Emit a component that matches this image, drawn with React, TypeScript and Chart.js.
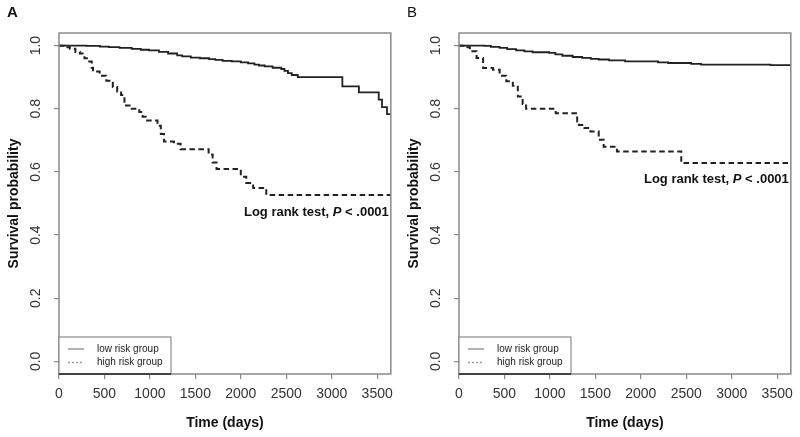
import React, { useEffect, useRef } from "react";
import { Chart, registerables } from "chart.js";

Chart.register(...registerables);

// ---- axis ticks ----
const xTickValues = [0, 500, 1000, 1500, 2000, 2500, 3000, 3500];
const yTickValues = [0, 0.2, 0.4, 0.6, 0.8, 1.0];
const xMax = 3650;
const seriesLabels = ["low risk group", "high risk group"];
const panelLabels = ["A", "B"];
const logRankText = ["Log rank test, ", "P", " < .0001"];

// ---- Panel A ----
const aLowDays = [0, 300, 450, 550, 665, 800, 900, 990, 1100, 1200, 1300, 1355, 1450, 1550, 1650, 1718, 1800, 1900, 2000, 2080, 2150, 2200, 2263, 2350, 2445, 2480, 2518, 2560, 2627, 3117, 3299, 3517, 3553, 3608, 3650];
const aLowSurv = [1.0, 0.999, 0.997, 0.995, 0.993, 0.99, 0.987, 0.985, 0.98, 0.975, 0.969, 0.966, 0.962, 0.96, 0.957, 0.955, 0.952, 0.95, 0.947, 0.944, 0.94, 0.937, 0.934, 0.93, 0.926, 0.92, 0.913, 0.907, 0.9, 0.871, 0.852, 0.829, 0.805, 0.783, 0.783];
const aHighDays = [0, 60, 120, 180, 229, 280, 320, 360, 374, 447, 520, 592, 640, 683, 720, 800, 883, 920, 955, 1083, 1120, 1155, 1264, 1337, 1646, 1690, 1733, 2000, 2060, 2136, 2280, 3650];
const aHighSurv = [1.0, 0.995, 0.99, 0.98, 0.975, 0.96, 0.95, 0.93, 0.918, 0.905, 0.889, 0.869, 0.855, 0.844, 0.81, 0.8, 0.79, 0.775, 0.763, 0.746, 0.72, 0.696, 0.689, 0.672, 0.655, 0.63, 0.609, 0.585, 0.565, 0.549, 0.527, 0.527];

// ---- Panel B ----
const bLowDays = [0, 283, 350, 447, 530, 628, 720, 810, 992, 1060, 1137, 1250, 1355, 1450, 1537, 1650, 1827, 2190, 2300, 2554, 2663, 3426, 3650];
const bLowSurv = [1.0, 0.999, 0.996, 0.993, 0.989, 0.985, 0.982, 0.979, 0.977, 0.972, 0.968, 0.964, 0.961, 0.958, 0.956, 0.953, 0.95, 0.947, 0.945, 0.942, 0.94, 0.938, 0.938];
const bHighDays = [0, 65, 120, 193, 265, 374, 447, 520, 592, 647, 700, 738, 1064, 1300, 1319, 1380, 1446, 1537, 1591, 1737, 2445, 3650];
const bHighSurv = [1.0, 0.995, 0.982, 0.961, 0.929, 0.924, 0.905, 0.887, 0.873, 0.839, 0.815, 0.8, 0.786, 0.76, 0.749, 0.739, 0.728, 0.702, 0.68, 0.665, 0.628, 0.628];

const FONT = "'Liberation Sans', Arial, sans-serif";
const BOX = "#8a8a8a";
const LINE = "#222222";
const TEXT = "#333333";

function toPoints(days: number[], surv: number[]) {
  return days.map((d, i) => ({ x: d, y: surv[i] }));
}

function makeOverlay(label: string, boldLabel: boolean, logRankY: number) {
  return {
    id: "overlay" + label,
    afterDraw(chart: any) {
      const ctx = chart.ctx;
      const { left, right, top, bottom } = chart.chartArea;
      ctx.save();
      // plot box
      ctx.strokeStyle = BOX;
      ctx.lineWidth = 1.5;
      ctx.strokeRect(left, top, right - left, bottom - top);
      // panel label
      ctx.fillStyle = "#111";
      ctx.font = (boldLabel ? "bold " : "") + "15px " + FONT;
      ctx.textBaseline = "middle";
      ctx.textAlign = "left";
      ctx.fillText(label, 7, 13);
      // log rank text
      const yPix = chart.scales.y.getPixelForValue(logRankY);
      const fonts = ["bold 13px " + FONT, "italic bold 13px " + FONT, "bold 13px " + FONT];
      const widths = logRankText.map((t, i) => {
        ctx.font = fonts[i];
        return ctx.measureText(t).width;
      });
      const total = widths.reduce((a, b) => a + b, 0);
      let x = right - 2 - total;
      ctx.fillStyle = "#111";
      logRankText.forEach((t, i) => {
        ctx.font = fonts[i];
        ctx.fillText(t, x, yPix);
        x += widths[i];
      });
      // legend box
      const lw = 112, lh = 37;
      ctx.fillStyle = "#fff";
      ctx.fillRect(left, bottom - lh, lw, lh);
      ctx.strokeStyle = BOX;
      ctx.lineWidth = 1.2;
      ctx.strokeRect(left, bottom - lh, lw, lh);
      ctx.strokeStyle = "#222";
      ctx.lineWidth = 1.5;
      ctx.beginPath();
      ctx.moveTo(left, bottom);
      ctx.lineTo(left + lw, bottom);
      ctx.stroke();
      const rows = [bottom - 25, bottom - 11.5];
      ctx.font = "10px " + FONT;
      ctx.fillStyle = "#222";
      chart.data.datasets.forEach((ds: any, i: number) => {
        ctx.strokeStyle = "#999";
        ctx.lineWidth = 1.5;
        ctx.setLineDash(i === 0 ? [] : [2, 2]);
        ctx.beginPath();
        ctx.moveTo(left + 9, rows[i]);
        ctx.lineTo(left + 25, rows[i]);
        ctx.stroke();
        ctx.setLineDash([]);
        ctx.fillText(ds.label, left + 38, rows[i]);
      });
      ctx.restore();
    },
  };
}

function Panel(props: { low: any[]; high: any[]; label: string; bold: boolean; logRankY: number }) {
  const ref = useRef<HTMLCanvasElement | null>(null);
  useEffect(() => {
    if (!ref.current) return;
    const chart = new Chart(ref.current, {
      type: "line",
      data: {
        datasets: [
          {
            label: seriesLabels[0],
            data: props.low,
            borderColor: LINE,
            borderWidth: 1.8,
            pointRadius: 0,
            stepped: "before",
            fill: false,
          },
          {
            label: seriesLabels[1],
            data: props.high,
            borderColor: LINE,
            borderWidth: 2,
            borderDash: [5.5, 3.5],
            pointRadius: 0,
            stepped: "before",
            fill: false,
          },
        ],
      },
      options: {
        responsive: false,
        animation: false,
        devicePixelRatio: 1,
        layout: { padding: { top: 33, right: 6, left: 0, bottom: 0 } },
        plugins: { legend: { display: false }, tooltip: { enabled: false } },
        scales: {
          x: {
            type: "linear",
            min: 0,
            max: xMax,
            border: { display: false },
            grid: { drawOnChartArea: false, drawTicks: true, tickLength: 5, tickColor: BOX, lineWidth: 1.2 },
            afterBuildTicks: (scale: any) => {
              scale.ticks = xTickValues.map((v) => ({ value: v }));
            },
            afterFit: (scale: any) => {
              scale.height = 63;
            },
            ticks: {
              color: TEXT,
              font: { family: FONT, size: 14 },
              padding: 7,
              maxRotation: 0,
              autoSkip: false,
              callback: (v: any) => String(v),
            },
            title: {
              display: true,
              text: "Time (days)",
              color: "#111",
              font: { family: FONT, size: 14, weight: "bold" },
              padding: { top: 0, bottom: 5.6 },
            },
          },
          y: {
            type: "linear",
            min: -0.04,
            max: 1.04,
            border: { display: false },
            grid: { drawOnChartArea: false, drawTicks: true, tickLength: 5, tickColor: BOX, lineWidth: 1.2 },
            afterBuildTicks: (scale: any) => {
              scale.ticks = yTickValues.map((v) => ({ value: v }));
            },
            afterFit: (scale: any) => {
              scale.width = 59;
            },
            ticks: {
              color: TEXT,
              font: { family: FONT, size: 14 },
              minRotation: 90,
              maxRotation: 90,
              crossAlign: "center",
              padding: 8,
              autoSkip: false,
              callback: (v: any) => Number(v).toFixed(1),
            },
            title: {
              display: true,
              text: "Survival probability",
              color: "#111",
              font: { family: FONT, size: 14, weight: "bold" },
              padding: { top: 6, bottom: 0 },
            },
          },
        },
      } as any,
      plugins: [makeOverlay(props.label, props.bold, props.logRankY)],
    });
    return () => chart.destroy();
  }, []);
  return <canvas ref={ref} width={400} height={437} style={{ display: "block", width: 400, height: 437 }} />;
}

export default function App() {
  return (
    <div style={{ position: "absolute", left: 0, top: 0, width: 800, height: 437, display: "flex", background: "#fff" }}>
      <Panel low={toPoints(aLowDays, aLowSurv)} high={toPoints(aHighDays, aHighSurv)} label={panelLabels[0]} bold={true} logRankY={0.473} />
      <Panel low={toPoints(bLowDays, bLowSurv)} high={toPoints(bHighDays, bHighSurv)} label={panelLabels[1]} bold={false} logRankY={0.575} />
    </div>
  );
}
